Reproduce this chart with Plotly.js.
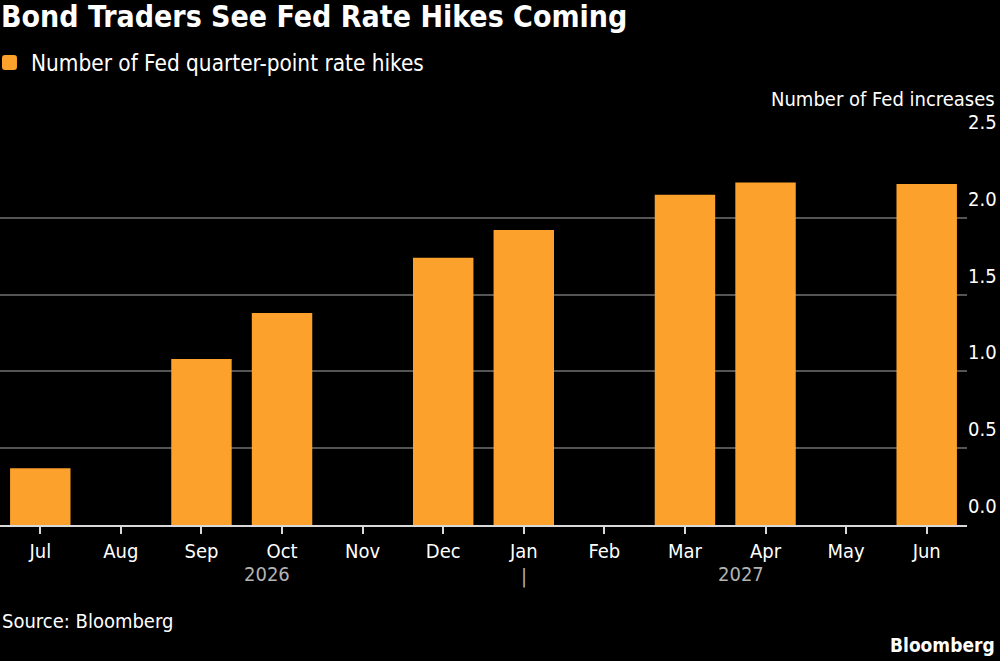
<!DOCTYPE html>
<html>
<head>
<meta charset="utf-8">
<script src="https://cdn.plot.ly/plotly-3.0.1.min.js"></script>
<style>
  html, body { margin: 0; padding: 0; background: #000; }
  #chart { width: 1000px; height: 661px; }
</style>
</head>
<body>
<div id="chart"></div>
<script>
// Months on the x axis (Jul 2026 – Jun 2027)
const months = ['Jul', 'Aug', 'Sep', 'Oct', 'Nov', 'Dec', 'Jan', 'Feb', 'Mar', 'Apr', 'May', 'Jun'];
// Number of quarter-point hikes priced in by each FOMC month (no meeting -> null)
const hikes = [0.37, null, 1.08, 1.38, null, 1.74, 1.92, null, 2.15, 2.23, null, 2.22];
// Y axis ticks
const yTicks = [0, 0.5, 1.0, 1.5, 2.0, 2.5];
const yTickText = ['0.0', '0.5', '1.0', '1.5', '2.0', '2.5'];
// Year labels under the month axis
const yearLabels = ['2026', '2027'];
const yearPositions = [2.81, 8.69];

const FONT = '"DejaVu Sans Condensed", "DejaVu Sans", sans-serif';
const ORANGE = '#fca12b';

const trace = {
  type: 'bar',
  x: months,
  y: hikes,
  name: 'Number of Fed quarter-point rate hikes',
  marker: { color: ORANGE, line: { width: 0 } },
  width: 0.75,
  showlegend: false,
  hoverinfo: 'x+y'
};

const annotations = [
  {
    // key text next to the rounded swatch
    text: trace.name, xref: 'paper', yref: 'paper',
    x: 0.0295, y: 1.2044, xanchor: 'left', yanchor: 'middle', showarrow: false,
    font: { family: FONT, size: 22.4, color: '#ffffff' }
  },
  {
    text: 'Number of Fed increases', xref: 'paper', yref: 'paper',
    x: 1.031, y: 1.109, xanchor: 'right', yanchor: 'middle', showarrow: false,
    font: { family: FONT, size: 20, color: '#ffffff' }
  },
  {
    text: 'Source: Bloomberg', xref: 'paper', yref: 'paper',
    x: 0, y: -0.25, xanchor: 'left', yanchor: 'middle', showarrow: false,
    font: { family: FONT, size: 20, color: '#ffffff' }
  },
  {
    text: '<b>Bloomberg</b>', xref: 'paper', yref: 'paper',
    x: 1.031, y: -0.3125, xanchor: 'right', yanchor: 'middle', showarrow: false,
    font: { family: FONT, size: 19, color: '#ffffff' }
  },
  {
    text: '|', xref: 'x', yref: 'paper',
    x: months[6], y: -0.133, xanchor: 'center', yanchor: 'middle', showarrow: false,
    font: { family: FONT, size: 20, color: '#b3b3b3' }
  }
];
yearLabels.forEach((t, i) => {
  annotations.push({
    text: t, xref: 'x', yref: 'paper',
    x: yearPositions[i], y: -0.1276, xanchor: 'center', yanchor: 'middle', showarrow: false,
    font: { family: FONT, size: 20, color: '#b3b3b3' }
  });
});

// Rounded-square swatch for the series key
const swatch = {
  type: 'path', xref: 'paper', yref: 'paper',
  xsizemode: 'pixel', ysizemode: 'pixel',
  xanchor: 0.0098, yanchor: 1.2044,
  path: 'M-7.5,-4.5 Q-7.5,-7.5 -4.5,-7.5 L4.5,-7.5 Q7.5,-7.5 7.5,-4.5 L7.5,4.5 Q7.5,7.5 4.5,7.5 L-4.5,7.5 Q-7.5,7.5 -7.5,4.5 Z',
  fillcolor: ORANGE, line: { width: 0 }
};

const layout = {
  width: 1000,
  height: 661,
  paper_bgcolor: '#000000',
  plot_bgcolor: '#000000',
  margin: { l: 0, r: 33, t: 141, b: 136, pad: 0 },
  font: { family: FONT, size: 20, color: '#ffffff' },
  title: {
    text: '<b>Bond Traders See Fed Rate Hikes Coming</b>',
    xref: 'container', yref: 'container',
    x: 0.001, xanchor: 'left', y: 0.975, yanchor: 'middle',
    font: { family: FONT, size: 30, color: '#ffffff' }
  },
  showlegend: false,
  bargap: 0.25,
  xaxis: {
    type: 'category',
    range: [-0.5, 11.5],
    showgrid: false,
    showline: true, linecolor: '#d9d9d9', linewidth: 2,
    ticks: 'outside', ticklen: 7, tickwidth: 2, tickcolor: '#d9d9d9',
    tickfont: { family: FONT, size: 20, color: '#ffffff' },
    zeroline: false,
    fixedrange: true
  },
  yaxis: {
    side: 'right',
    range: [0, 2.5],
    tickvals: yTicks,
    ticktext: yTickText,
    ticks: '',
    ticklabelposition: 'outside top',
    ticklabelshift: -5,
    tickfont: { family: FONT, size: 20, color: '#ffffff' },
    showgrid: true, gridcolor: '#555555', gridwidth: 2,
    zeroline: false,
    showline: false,
    fixedrange: true
  },
  shapes: [swatch],
  annotations: annotations
};

Plotly.newPlot('chart', [trace], layout, { displayModeBar: false, staticPlot: true });
</script>
</body>
</html>
